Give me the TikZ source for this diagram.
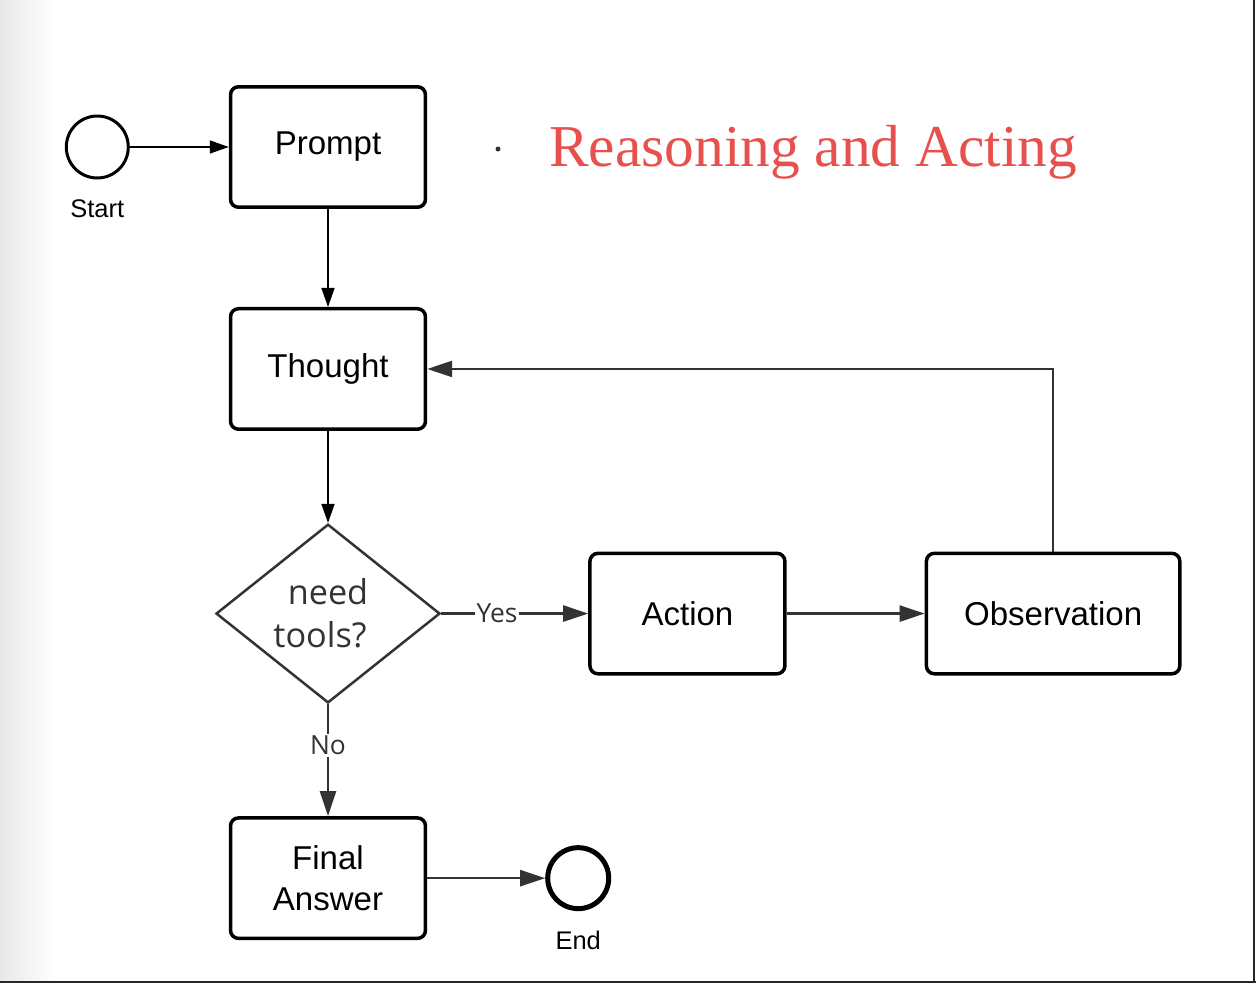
\documentclass[tikz,border=0pt]{standalone}
\usepackage{fontspec}
\setmainfont{Liberation Sans}
\newfontfamily\titlefont{Liberation Serif}
\newfontfamily\decfont{Open Sans}
\usetikzlibrary{arrows.meta,shapes.geometric,positioning}

\definecolor{linkgray}{HTML}{333333}
\definecolor{titlered}{HTML}{E8504D}

\begin{document}
\begin{tikzpicture}[x=0.02cm,y=-0.02cm]

	\tikzstyle{box}   = [rectangle, rounded corners=0.16cm, line width=0.07cm, draw=black, minimum width=3.9cm, minimum height=2.41cm, font=\fontsize{18.8}{23}\selectfont, align=center]
	\tikzstyle{wide box} = [box, minimum width=5.07cm]
	\tikzstyle{decide} = [diamond, line width=0.05cm, draw=linkgray, text=linkgray, inner sep=0pt, minimum width=4.48cm, minimum height=3.56cm, font=\decfont\fontsize{19.5}{24.5}\selectfont, align=center]
	\tikzstyle{endpoint} = [circle, draw=black, inner sep=0pt]
	\tikzstyle{lbl} = [font=\fontsize{14.5}{16}\selectfont, yshift=-0.28cm]
	\tikzstyle{flow} = [-{Triangle[length=0.38cm,width=0.26cm]}, line width=0.03cm, black]
	\tikzstyle{link} = [-{Triangle[length=0.5cm,width=0.32cm]}, line width=0.05cm, linkgray]
	\tikzstyle{cond} = [fill=white, inner sep=1pt, text=linkgray, font=\decfont\fontsize{15}{17}\selectfont]

	% page
	\useasboundingbox (0,0) rectangle (1256,984);
	\shade [left color=black!9, right color=white] (0,0) rectangle (56,981);
	\draw [line width=0.04cm, black!85] (1254,0) -- (1254,981);
	\draw [line width=0.05cm, black!85] (0,982) -- (1256,982);

	% nodes
	\node [box] (prompt) at (328,147) {Prompt};
	\node [endpoint, line width=0.06cm, minimum size=1.24cm, label={[lbl]below:Start}] (start) [left=1.98cm of prompt] {};
	\node [box] (thought) [below=1.96cm of prompt] {Thought};
	\node [decide] (decision) [below=1.84cm of thought] {need\\tools?\hspace*{0.32cm}};
	\node [box] (action) [right=2.94cm of decision] {Action};
	\node [wide box] (obs) [right=2.76cm of action] {Observation};
	\node [box] (final) [below=2.24cm of decision] {Final\\Answer};
	\node [endpoint, line width=0.1cm, minimum size=1.22cm, label={[lbl]below:End}] (stop) [right=2.36cm of final] {};

	% title
	\node [circle, fill=black!80, inner sep=0pt, minimum size=0.1cm] (bullet) at (498,149) {};
	\node [anchor=base west, text=titlered, inner sep=0pt, font=\titlefont\fontsize{33.8}{36}\selectfont] (title) at (549,166) {Reasoning and Acting};

	% connectors
	\draw [flow] (start) -- (prompt);
	\draw [flow] (prompt) -- (thought);
	\draw [flow] (thought) -- (decision);
	\draw [link] (decision) -- node [cond, pos=0.38] {Yes} (action);
	\draw [link] (decision) -- node [cond, pos=0.37] {No} (final);
	\draw [link] (action) -- (obs);
	\draw [link] (obs.north) |- (thought.east);
	\draw [link] (final) -- (stop);

\end{tikzpicture}
\end{document}
